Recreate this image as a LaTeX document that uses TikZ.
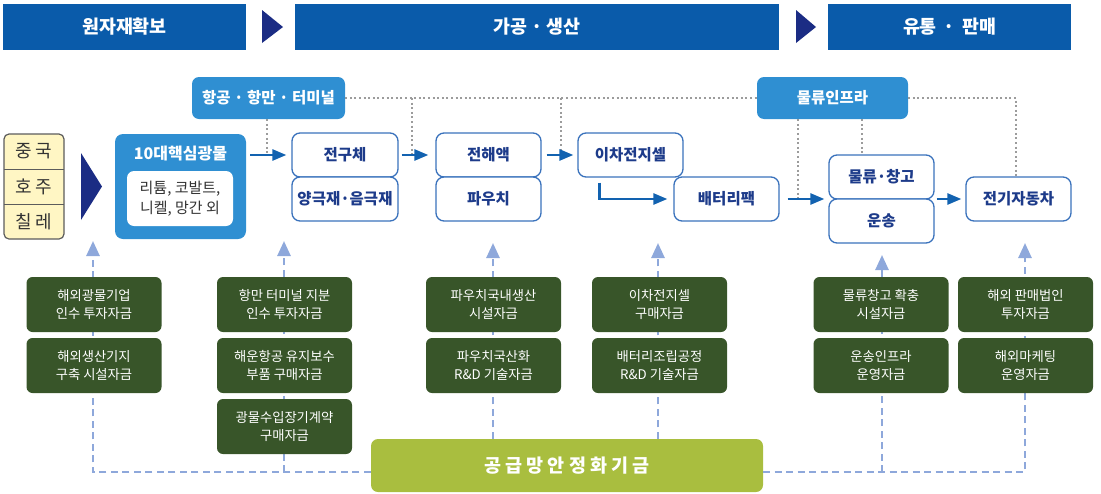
\documentclass[tikz,border=0pt]{standalone}
\usepackage{fontspec}
\setmainfont{Noto Sans CJK KR}
\usetikzlibrary{arrows.meta}
\definecolor{hdrblue}{HTML}{0A5BAA}
\definecolor{navy}{HTML}{1B2C84}
\definecolor{skyblue}{HTML}{2F8FD2}
\definecolor{lineblue}{HTML}{3A72BC}
\definecolor{txtblue}{HTML}{1D3B8A}
\definecolor{flowblue}{HTML}{1262B0}
\definecolor{dotgray}{HTML}{9C9C9C}
\definecolor{fundgreen}{HTML}{385529}
\definecolor{olive}{HTML}{A9BE3F}
\definecolor{dashblue}{HTML}{8EA8DB}
\definecolor{paleyellow}{HTML}{FFF6C4}
\definecolor{inkgray}{HTML}{333333}
\tikzset{
  hdr/.style={fill=hdrblue, text=white, minimum height=46pt, inner sep=0pt,
    font=\fontsize{18.4}{20}\selectfont\bfseries},
  skybox/.style={fill=skyblue, rounded corners=7pt, text=white, minimum height=42pt,
    inner sep=0pt, font=\fontsize{15.5}{18}\selectfont\bfseries},
  stage/.style={draw=lineblue, line width=1.3pt, fill=white, rounded corners=8pt,
    minimum width=105pt, minimum height=44pt, inner sep=0pt, text=txtblue,
    font=\fontsize{15.5}{18}\selectfont\bfseries},
  fundbox/.style={fill=fundgreen, rounded corners=6pt, text=white, minimum width=135pt,
    minimum height=55pt, inner sep=0pt, align=center, font=\fontsize{13.3}{18}\selectfont},
  nation/.style={minimum width=60pt, minimum height=35pt, inner sep=0pt, text=inkgray,
    font=\fontsize{18}{20}\selectfont},
  flow/.style={draw=flowblue, line width=2.6pt, -{Triangle[length=14pt,width=11pt]}},
  dotln/.style={draw=dotgray, line width=2pt, dash pattern=on 2pt off 2.6pt},
  fundln/.style={draw=dashblue, line width=2.6pt, dash pattern=on 7pt off 4.5pt,
    -{Triangle[length=15pt,width=13pt]}}
}
\begin{document}
\begin{tikzpicture}[x=1pt,y=-1pt]
\useasboundingbox (0,0) rectangle (1101,493);
% stage headers
\node[hdr, minimum width=243pt] (hdrsrc) at (124.5,27) {원자재확보};
\node[hdr, minimum width=484pt] (hdrmake) at (537,27) {가공 · 생산};
\node[hdr, minimum width=243pt] (hdrsell) at (949.5,27) {유통\hspace{7pt}·\hspace{7pt}판매};
\fill[navy] (262,10) -- (283,27) -- (262,43) -- cycle;
\fill[navy] (796,10) -- (816,27) -- (796,43) -- cycle;
% infrastructure
\node[skybox, minimum width=153pt] (port) at (268.5,98) {항공 · 항만 · 터미널};
\node[skybox, minimum width=151pt] (logi) at (832.5,98) {물류인프라};
% sources
\node[fill=paleyellow, draw=inkgray!80, line width=1.2pt, rounded corners=5pt,
  minimum width=60pt, minimum height=105pt] (ctry) at (34,186.5) {};
\node[nation] (cn1) at (34,151.5) {중 국};
\node[nation] (cn2) at (34,186.5) {호 주};
\node[nation] (cn3) at (34,221.5) {칠 레};
\draw[inkgray!80, line width=1.2pt] (cn1.south west) -- (cn1.south east);
\draw[inkgray!80, line width=1.2pt] (cn2.south west) -- (cn2.south east);
\fill[navy] (81,153) -- (102,186.5) -- (81,220) -- cycle;
\node[fill=skyblue, rounded corners=8pt, minimum width=131pt, minimum height=105pt] (mineral) at (180.5,186.5) {};
\node[text=white, font=\fontsize{16}{18}\selectfont\bfseries] (mtitle) at (180.5,154) {10대핵심광물};
\node[fill=white, rounded corners=7pt, minimum width=106pt, minimum height=55pt, inner sep=0pt,
  align=center, text=inkgray, font=\fontsize{15}{20.5}\selectfont] (mlist) at (180,198.5) {리튬, 코발트,\\니켈, 망간 외};
% value chain
\node[stage, minimum width=106pt] (prec) at (345,155) {전구체};
\node[stage, minimum width=106pt] (cath) at (345,199) {양극재·음극재};
\node[stage] (elec) at (488.5,155) {전해액};
\node[stage] (pouch) at (488.5,199) {파우치};
\node[stage] (cell) at (630.5,155) {이차전지셀};
\node[stage] (pack) at (726.5,199) {배터리팩};
\node[stage] (ware) at (881.5,177) {물류·창고};
\node[stage] (trans) at (881.5,221) {운송};
\node[stage] (ev) at (1018.5,199) {전기자동차};
% dotted links
\coordinate (drop1) at (412,98);
\coordinate (drop2) at (561,98);
\draw[dotln] (port.east) -- (logi.west);
\draw[dotln] ([xshift=-1.5pt]port.south) -- ([xshift=-1.5pt]port.south |- prec.west);
\draw[dotln] (drop1) -- (drop1 |- prec.east);
\draw[dotln] (drop2) -- (drop2 |- cell.west);
\draw[dotln] ([xshift=-34.5pt]logi.south) -- ([xshift=-34.5pt]logi.south |- pack.east);
\draw[dotln] ([xshift=29.5pt]logi.south) -- ([xshift=29.5pt]logi.south |- ware.north);
\draw[dotln] (logi.east) -| ([xshift=-2.5pt]ev.north);
% flow arrows
\draw[flow, shorten <=4pt, shorten >=5pt] (mineral.east |- prec.west) -- (prec.west);
\draw[flow, shorten <=3pt, shorten >=7pt] (prec.east) -- (elec.west);
\draw[flow, shorten <=5pt, shorten >=4pt] (elec.east) -- (cell.west);
\draw[flow, shorten <=5pt, shorten >=6pt] ([xshift=22pt]cell.south west) |- (pack.west);
\draw[flow, shorten <=8pt, shorten >=4pt] (pack.east) -- (ware.west |- pack.east);
\draw[flow, shorten <=2pt, shorten >=4pt] (ware.east |- ev.west) -- (ev.west);
% fund
\node[fill=olive, rounded corners=7pt, minimum width=392pt, minimum height=53pt, text=white,
  font=\fontsize{18.5}{20}\selectfont\bfseries] (fund) at (567,465.5) {공 급 망 안 정 화 기 금};
\coordinate (up1) at (93,241);
\coordinate (up2) at (284,241);
\coordinate (up3) at (493,243);
\coordinate (up4) at (658,243);
\coordinate (up5) at (882,255);
\coordinate (up6) at (1025,243);
\coordinate (railW) at ([yshift=-6.5pt]fund.west);
\coordinate (railE) at ([yshift=-6.5pt]fund.east);
\draw[fundln] (railW) -| (up1);
\draw[fundln] (railW -| up2) -- (up2);
\draw[fundln] (fund.north -| up3) -- (up3);
\draw[fundln] (fund.north -| up4) -- (up4);
\draw[fundln] (railE) -| (up6);
\draw[fundln] (railE -| up5) -- (up5);
% support funds
\node[fundbox] (minebuy) at (94,304.5) {해외광물기업\\인수 투자자금};
\node[fundbox] (minebase) at (94,365.5) {해외생산기지\\구축 시설자금};
\node[fundbox] (portshare) at (284.5,304.5) {항만 터미널 지분\\인수 투자자금};
\node[fundbox] (partbuy) at (284.5,365.5) {해운항공 유지보수\\부품 구매자금};
\node[fundbox] (mineimport) at (284.5,426.5) {광물수입장기계약\\구매자금};
\node[fundbox] (pouchplant) at (493.5,304.5) {파우치국내생산\\시설자금};
\node[fundbox] (pouchrnd) at (493.5,365.5) {파우치국산화\\R\&D 기술자금};
\node[fundbox] (cellbuy) at (659.5,304.5) {이차전지셀\\구매자금};
\node[fundbox] (packrnd) at (659.5,365.5) {배터리조립공정\\R\&D 기술자금};
\node[fundbox] (wareplant) at (881,304.5) {물류창고 확충\\시설자금};
\node[fundbox] (transrun) at (881,365.5) {운송인프라\\운영자금};
\node[fundbox] (salesinv) at (1025.5,304.5) {해외 판매법인\\투자자금};
\node[fundbox] (marketrun) at (1025.5,365.5) {해외마케팅\\운영자금};
\end{tikzpicture}
\end{document}
